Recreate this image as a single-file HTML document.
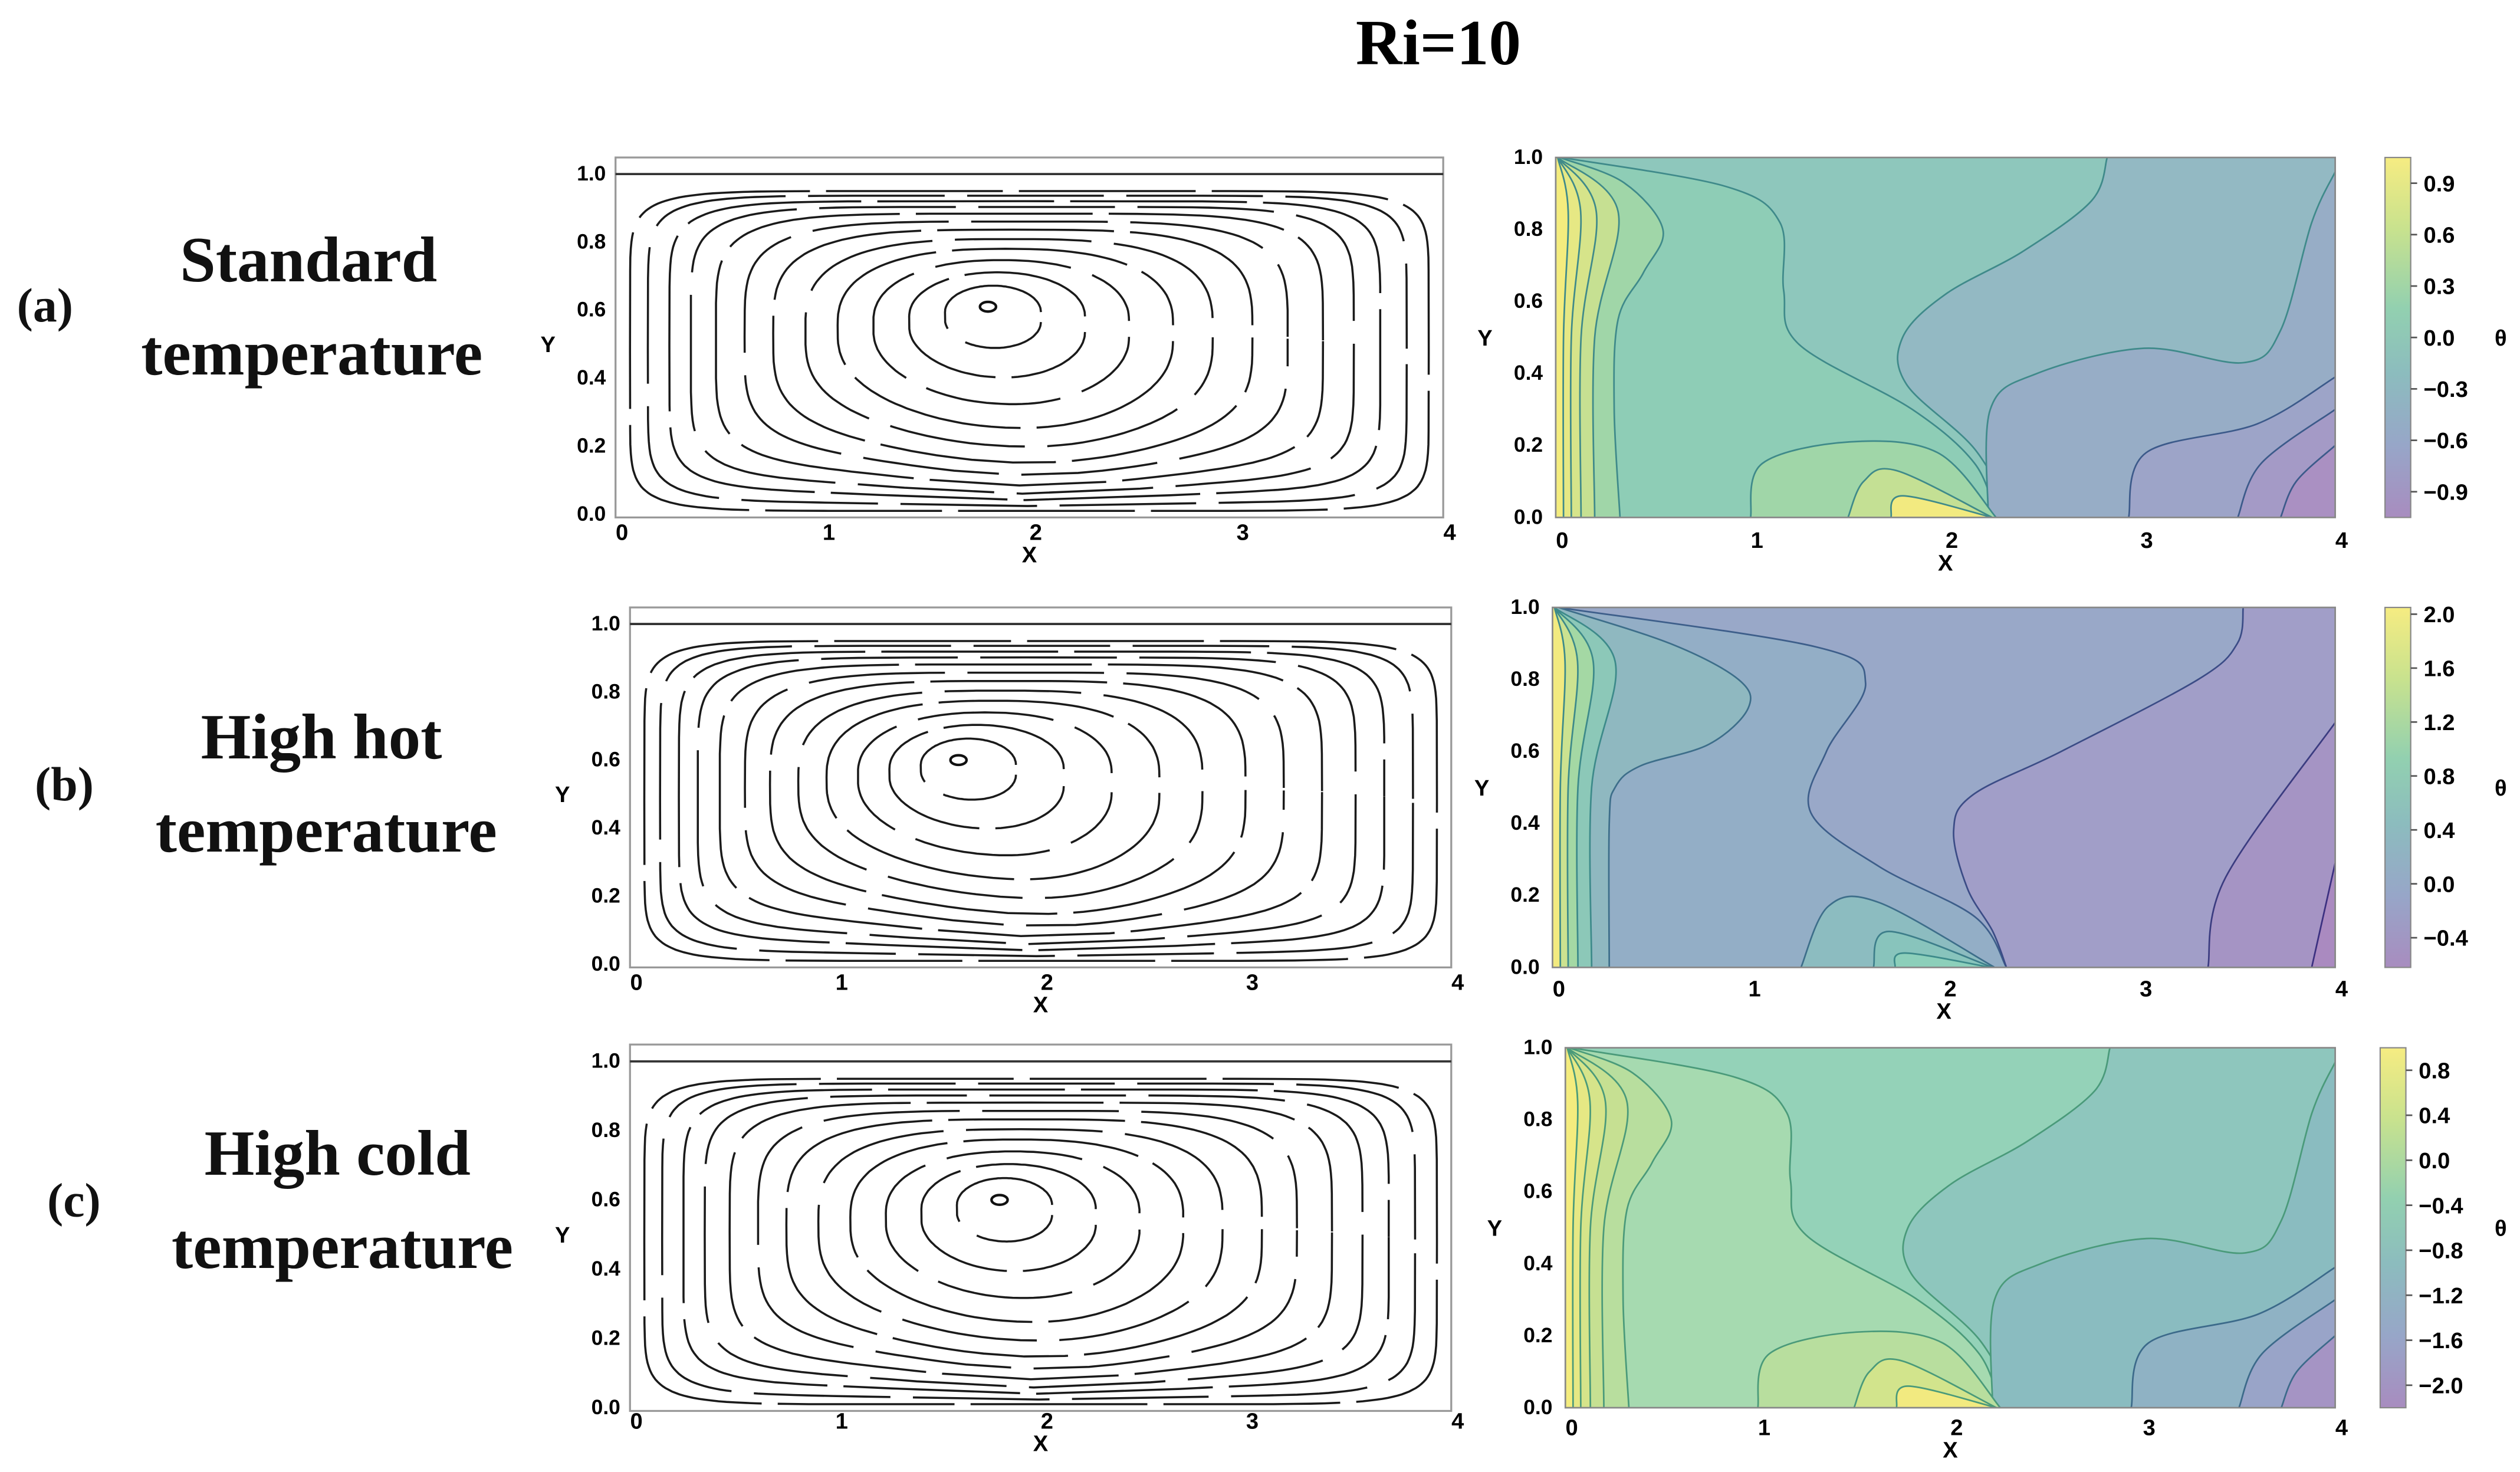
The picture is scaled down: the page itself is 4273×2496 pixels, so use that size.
<!DOCTYPE html>
<html><head><meta charset="utf-8"><title>Ri=10</title>
<style>html,body{margin:0;padding:0;background:#fff}svg{display:block}</style></head>
<body>
<svg id="fig" width="4273" height="2496" viewBox="0 0 1568 916" preserveAspectRatio="none" xmlns="http://www.w3.org/2000/svg">
<text x="895" y="40" text-anchor="middle" font-family="Liberation Serif, serif" font-weight="bold" font-size="40">Ri=10</text>
<g font-family="Liberation Serif, serif" font-weight="bold" fill="#111">
<text x="28" y="200" text-anchor="middle" font-size="30">(a)</text>
<text x="192" y="175" text-anchor="middle" font-size="40">Standard</text>
<text x="194" y="233" text-anchor="middle" font-size="40">temperature</text>
<text x="40" y="498" text-anchor="middle" font-size="30">(b)</text>
<text x="200" y="472" text-anchor="middle" font-size="40">High hot</text>
<text x="203" y="530" text-anchor="middle" font-size="40">temperature</text>
<text x="46" y="757" text-anchor="middle" font-size="30">(c)</text>
<text x="210" y="731" text-anchor="middle" font-size="40">High cold</text>
<text x="213" y="789" text-anchor="middle" font-size="40">temperature</text>
</g>
<g id="panels"></g>
</svg>
<script>
// ---- data ----
const xTicks = [0,1,2,3,4];
const yTicks = [0.0,0.2,0.4,0.6,0.8,1.0];
const streamLevels = [0.12,0.22,0.32,0.42,0.51,0.6,0.68,0.76,0.83,0.89,0.95,1.0];
const vortexA = [1.8,0.61];
const vortexB = [1.6,0.6];
const vortexC = [1.8,0.6];
const cbarTicksA = [0.9,0.6,0.3,0.0,-0.3,-0.6,-0.9];
const cbarTicksB = [2.0,1.6,1.2,0.8,0.4,0.0,-0.4];
const cbarTicksC = [0.8,0.4,0.0,-0.4,-0.8,-1.2,-1.6,-2.0];
const cbarRangeA = [-1.05,1.05];
const cbarRangeB = [-0.62,2.05];
const cbarRangeC = [-2.2,1.0];
// contour boundaries (data coords)
const curveA_C = [[2.83,1],[2.75,0.88],[2.4,0.74],[2.0,0.62],[1.78,0.5],[1.8,0.37],[2.15,0.19],[2.35,0]];
const curveA_B = [[0.03,1],[0.87,0.92],[1.15,0.82],[1.17,0.63],[1.25,0.48],[1.83,0.3],[2.15,0.15],[2.26,0]];
const curveA_L = [[0.02,1],[0.35,0.93],[0.55,0.8],[0.45,0.68],[0.32,0.55],[0.3,0.3],[0.33,0]];
const curveA_D = [[2.22,0],[2.23,0.3],[2.47,0.4],[3.02,0.47],[3.53,0.43],[3.72,0.52],[3.88,0.82],[4,0.96]];
const curveA_E = [[2.94,0],[3.03,0.18],[3.6,0.26],[4,0.39]];
const curveA_F = [[3.5,0],[3.62,0.15],[4,0.3]];
const curveA_G = [[3.72,0],[3.8,0.1],[4,0.2]];
const curveA_H = [[1.0,0],[1.06,0.15],[1.51,0.21],[1.96,0.18],[2.26,0]];
const curveA_H2 = [[1.5,0],[1.58,0.1],[1.75,0.13],[2.24,0]];
const curveA_H3 = [[1.72,0],[1.78,0.06],[2.24,0]];
const curveB_B = [[0.03,1],[0.6,0.9],[0.95,0.8],[1.0,0.72],[0.8,0.62],[0.45,0.56],[0.32,0.5],[0.29,0.4],[0.29,0]];
const curveB_C = [[0.03,1],[1.35,0.89],[1.6,0.79],[1.4,0.6],[1.32,0.43],[1.67,0.28],[2.16,0.14],[2.32,0]];
const curveB_D = [[3.53,1],[3.5,0.9],[3.3,0.8],[2.6,0.6],[2.15,0.48],[2.05,0.38],[2.12,0.22],[2.25,0.1],[2.32,0]];
const curveB_E = [[3.35,0],[3.44,0.25],[4,0.68]];
const curveB_F = [[3.88,0],[4,0.29]];
const curveB_H = [[1.27,0],[1.41,0.17],[1.67,0.18],[2.26,0]];
const curveB_H2 = [[1.64,0],[1.72,0.1],[2.25,0]];
const curveB_H3 = [[1.75,0],[1.8,0.04],[2.24,0]];
const leftStrips = [0.04,0.08,0.13,0.2];

const NS='http://www.w3.org/2000/svg';
const root=document.getElementById('panels');
function el(tag,attrs,parent){const e=document.createElementNS(NS,tag);for(const k in attrs)e.setAttribute(k,attrs[k]);(parent||root).appendChild(e);return e;}
function smooth(pts){let d='M'+pts[0][0].toFixed(2)+','+pts[0][1].toFixed(2);for(let i=0;i<pts.length-1;i++){const p0=pts[i-1]||pts[i],p1=pts[i],p2=pts[i+1],p3=pts[i+2]||p2;const c1=[p1[0]+(p2[0]-p0[0])/6,p1[1]+(p2[1]-p0[1])/6],c2=[p2[0]-(p3[0]-p1[0])/6,p2[1]-(p3[1]-p1[1])/6];d+=`C${c1[0].toFixed(2)},${c1[1].toFixed(2)} ${c2[0].toFixed(2)},${c2[1].toFixed(2)} ${p2[0].toFixed(2)},${p2[1].toFixed(2)}`;}return d;}

function axes(g,px0,px1,py1,py0,tickY,labelX){
  const sx=v=>px0+(px1-px0)*v/4, sy=v=>py0+(py1-py0)*v;
  xTicks.forEach(t=>{const tx=el('text',{x:sx(t)+4,y:tickY,'text-anchor':'middle','font-family':'Liberation Sans, sans-serif','font-weight':'bold','font-size':14},g);tx.textContent=t;});
  yTicks.forEach(t=>{const ty=el('text',{x:labelX,y:sy(t)+4,'text-anchor':'end','font-family':'Liberation Sans, sans-serif','font-weight':'bold','font-size':13},g);ty.textContent=t.toFixed(1);});
  const xl=el('text',{x:(px0+px1)/2,y:tickY+14,'text-anchor':'middle','font-family':'Liberation Sans, sans-serif','font-weight':'bold','font-size':14},g);xl.textContent='X';
  const yl=el('text',{x:labelX-36,y:(py0+py1)/2+5,'text-anchor':'middle','font-family':'Liberation Sans, sans-serif','font-weight':'bold','font-size':14},g);yl.textContent='Y';
  return [sx,sy];
}

function stream(name,x0,x1,ftop,fbot,vort,tickY){
  const g=el('g',{});
  const py1=ftop+(fbot-ftop)*0.046, py0=fbot-2;
  el('rect',{x:x0,y:ftop,width:x1-x0,height:fbot-ftop,fill:'none',stroke:'#999','stroke-width':1.2},g);
  el('line',{x1:x0,x2:x1,y1:py1,y2:py1,stroke:'#333','stroke-width':1.4},g);
  const [sx,sy]=axes(g,x0,x1,py1,py0,tickY,x0-6);
  streamLevels.forEach((r,i)=>{
    const cx=vort[0]+(2.0-vort[0])*r, cy=vort[1]+(0.48-vort[1])*r;
    const a=1.93*r, b=0.47*Math.pow(r,0.85), n=2+r*r*r*7;
    const pts=[];
    for(let k=0;k<=140;k++){const t=k/140*2*Math.PI;const c=Math.cos(t),s=Math.sin(t);
      let x=cx+a*Math.sign(c)*Math.pow(Math.abs(c),2/n), y=cy+b*Math.sign(s)*Math.pow(Math.abs(s),2/n);
      if(s<0) y+= -0.08*Math.sin(Math.PI*r)*Math.exp(-Math.pow((x-2)/0.8,2));
      pts.push([sx(x),sy(y)]);}
    let d='M'+pts.map(p=>p[0].toFixed(1)+','+p[1].toFixed(1)).join('L');
    const p=el('path',{d:d,fill:'none',stroke:'#1a1a1a','stroke-width':1.3,'stroke-dasharray':(i%2?'110 10':'85 14'),'stroke-dashoffset':i*23},g);
    
    
  });
  const v=el('ellipse',{cx:sx(vort[0]),cy:sy(vort[1]),rx:5,ry:3,fill:'none',stroke:'#111','stroke-width':1.6},g);
  
  
}

function contour(name,x0,x1,y1,y0,regions,cb,ticks,range,tickY){
  const g=el('g',{});
  const sx=v=>x0+(x1-x0)*v/4, sy=v=>y0+(y1-y0)*v;
  const id='clip'+name;const cp=el('clipPath',{id:id},g);el('rect',{x:x0,y:y1,width:x1-x0,height:y0-y1},cp);
  const cg=el('g',{'clip-path':`url(#${id})`},g);
  regions.forEach(rg=>{
    const pts=rg.pts.map(p=>[sx(p[0]),sy(p[1])]);
    let d=smooth(pts);
    if(rg.close){rg.close.forEach(c=>{d+='L'+sx(c[0])+','+sy(c[1]);});d+='Z';}
    const f=el('path',{d:d,fill:rg.fill,stroke:'none'},cg);
    
    
    if(rg.line){const l=el('path',{d:smooth(pts),fill:'none',stroke:rg.line,'stroke-width':1},cg);
      
      }
  });
  el('rect',{x:x0,y:y1,width:x1-x0,height:y0-y1,fill:'none',stroke:'#888','stroke-width':1},g);
  axes(g,x0,x1,y1,y0,tickY,x0-8);
  const gid='grad'+name;const lg=el('linearGradient',{id:gid,x1:0,y1:0,x2:0,y2:1},g);
  [['0','#f6ec82'],['0.2','#c8e28e'],['0.42','#92d0b0'],['0.6','#8cbcbe'],['0.8','#97a6c8'],['1','#a88cbf']].forEach(s=>el('stop',{offset:s[0],'stop-color':s[1]},lg));
  const cbr=el('rect',{x:cb[0],y:y1,width:16,height:y0-y1,fill:`url(#${gid})`,stroke:'#888','stroke-width':0.8},g);
  
  
  ticks.forEach(t=>{const yy=y1+(range[1]-t)/(range[1]-range[0])*(y0-y1);
    el('line',{x1:cb[0]+16,x2:cb[0]+20,y1:yy,y2:yy,stroke:'#555'},g);
    const tx=el('text',{x:cb[0]+24,y:yy+5,'font-family':'Liberation Sans, sans-serif','font-weight':'bold','font-size':14},g);
    
    
    tx.textContent=(t<0?'\u2212':'')+Math.abs(t).toFixed(1);});
  const th=el('text',{x:1556,y:(y0+y1)/2+5,'text-anchor':'middle','font-family':'Liberation Sans, sans-serif','font-weight':'bold','font-size':14},g);
  
  
  th.textContent='\u03b8';
}

function regionsAC(p){
  const L=[[0,0],[0,1]], R=[[4,0]];
  const out=[{pts:[[0,1],[4,1]],close:[[4,0],[0,0]],fill:p[0]},
   {pts:curveA_C,close:L,fill:p[1],line:p[9]},
   {pts:curveA_B,close:L,fill:p[2],line:p[9]},
   {pts:curveA_L,close:L,fill:p[3],line:p[9]},
   {pts:curveA_D,close:R,fill:p[5],line:p[9]},
   {pts:curveA_E,close:R,fill:p[6],line:p[10]},
   {pts:curveA_F,close:R,fill:p[7],line:p[10]},
   {pts:curveA_G,close:R,fill:p[8],line:p[10]},
   {pts:curveA_H,close:[],fill:p[3],line:p[9]},
   {pts:curveA_H2,close:[],fill:p[4],line:p[9]},
   {pts:curveA_H3,close:[],fill:'#f2ea80',line:p[9]}];
  leftStrips.slice().reverse().forEach((s,i)=>out.push({pts:[[0.01,1],[s*1.6,0.85],[s,0.5],[s,0]],close:L,fill:['#c6e092','#d6e48a','#e6e884','#f4ec7e'][i],line:p[9]}));
  return out;
}
function regionsB(){
  const L=[[0,0],[0,1]], R=[[4,0]];
  const out=[{pts:[[0,1],[4,1]],close:[[4,0],[0,0]],fill:'#99a8c8'},
   {pts:curveB_C,close:L,fill:'#93aec6',line:'#3d5e8a'},
   {pts:curveB_B,close:L,fill:'#8fb8c0',line:'#3d6e8a'},
   {pts:curveB_D,close:[[4,0],[4,1]],fill:'#a19ec8',line:'#3b4c86'},
   {pts:curveB_E,close:R,fill:'#a594c4',line:'#3b3c80'},
   {pts:curveB_F,close:R,fill:'#aa8ac0',line:'#3b3080'},
   {pts:curveB_H,close:[],fill:'#8cbcc0',line:'#3d6e8a'},
   {pts:curveB_H2,close:[],fill:'#88c4bc',line:'#3d7e8a'},
   {pts:curveB_H3,close:[],fill:'#8ccfba',line:'#3d8a8a'}];
  leftStrips.slice().reverse().forEach((s,i)=>out.push({pts:[[0.01,1],[s*1.6,0.85],[s,0.5],[s,0]],close:L,fill:['#8cc8b8','#a4d8a4','#cce290','#f2ea80'][i],line:'#3d8a8a'}));
  return out;
}

stream('streamlines-a',383,898,98,322,vortexA,336);
stream('streamlines-b',392,903,378,602,vortexB,616);
stream('streamlines-c',392,903,650,878,vortexC,889);
contour('contour-a',968,1453,98,322,regionsAC(['#93b9c3','#8ec7bc','#8ecdb6','#a0d6a8','#c4e094','#97adc6','#9da4c8','#a49ac6','#aa90c2','#3f8a8a','#3c5a8a']),[1484],cbarTicksA,cbarRangeA,341);
contour('contour-b',966,1453,378,602,regionsB(),[1484],cbarTicksB,cbarRangeB,620);
contour('contour-c',974,1453,652,876,regionsAC(['#8ec6bd','#94d2b8','#a6dab0','#b8de9e','#d2e48c','#8abcc0','#8fb2c4','#99a4c8','#a594c4','#4a9a7a','#3c6a8a']),[1481],cbarTicksC,cbarRangeC,893);
</script>
</body></html>
